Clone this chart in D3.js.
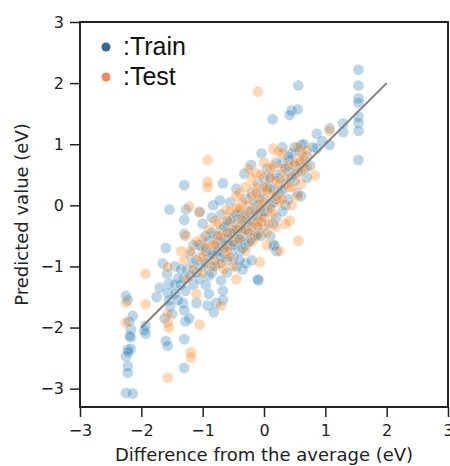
<!DOCTYPE html>
<html>
<head>
<meta charset="utf-8">
<script src="https://cdn.jsdelivr.net/npm/d3@7"></script>
<style>
  body { margin: 0; background: #fff; }
  svg { display: block; }
  .tick text { font-family: "DejaVu Sans", sans-serif; font-size: 16px; fill: #222; }
  .tick line { stroke: #222; stroke-width: 1.5; }
</style>
</head>
<body>
<svg width="450" height="466"></svg>
<script>
// train points [difference, predicted]
var trainPoints = [
  [-2.25,-1.48],[-2.22,-1.55],[-2.14,-1.81],[-2.17,-2.03],[-2.17,-2.16],[-2.19,-2.14],[-2.22,-2.36],[-2.17,-2.35],
  [-2.25,-2.47],[-2.22,-2.63],[-2.22,-2.74],[-2.25,-3.07],[-2.14,-3.08],[-2.2,-1.9],[-2.21,-2.4],
  [-1.93,-1.97],[-1.93,-2.10],[-1.95,-2.05],
  [-1.58,-1.12],[-1.55,-1.28],[-1.57,-1.43],[-1.55,-1.55],[-1.53,-1.65],[-1.6,-2.22],[-1.57,-2.30],[-1.62,-1.85],[-1.5,-1.78],
  [-1.30,-1.2],[-1.28,-1.4],[-1.32,-1.6],[-1.30,-1.72],[-1.28,-1.9],[-1.30,-2.19],[-1.30,-2.66],[-1.25,-1.05],[-1.35,-1.3],[-1.22,-1.85],
  [-0.92,-1.64],[-0.78,-1.6],[-0.70,-1.23],[-0.67,-1.4],[-0.67,-1.55],[-0.82,-1.75],[-0.6,-1.1],[-0.45,-1.0],[-0.35,-1.05],
  [-0.30,-0.95],[-0.09,-1.23],[0.15,-0.66],[0.2,-0.75],[-0.2,-0.9],[-0.1,-1.21],[0.17,-0.65],
  [-1.30,0.33],[-1.54,-0.07],[-1.27,-0.07],[-1.30,-0.24],[-1.30,-0.47],[-0.83,0.0],[-0.72,0.08],[-0.67,0.36],
  [-0.45,0.27],[-0.32,0.52],[-0.21,0.66],[-0.04,0.85],[-1.05,-0.11],
  [-1.2,-0.8],[-1.1,-0.9],[-1.0,-0.7],[-1.0,-1.0],[-0.9,-0.6],[-0.9,-0.85],[-0.85,-1.1],[-0.8,-0.5],[-0.8,-0.75],
  [-0.75,-0.95],[-0.7,-0.4],[-0.7,-0.65],[-0.65,-0.8],[-0.6,-0.3],[-0.6,-0.55],[-0.55,-0.7],[-0.5,-0.2],[-0.5,-0.45],
  [-0.5,-0.85],[-0.45,-0.6],[-0.4,-0.1],[-0.4,-0.35],[-0.4,-0.75],[-0.35,-0.5],[-0.3,0.1],[-0.3,-0.25],[-0.3,-0.65],
  [-0.25,-0.4],[-0.2,0.2],[-0.2,-0.1],[-0.2,-0.55],[-0.15,-0.3],[-0.1,0.35],[-0.1,0.0],[-0.1,-0.45],[-0.05,-0.2],
  [0.0,0.45],[0.0,0.1],[0.0,-0.35],[0.05,-0.1],[0.1,0.3],[0.1,-0.5],[0.15,0.05],[0.2,0.5],[0.2,-0.2],[0.25,0.2],
  [0.3,0.7],[0.3,-0.1],[0.35,0.35],[0.4,0.55],[0.4,0.1],[0.45,0.85],[0.5,0.4],[0.5,0.65],[0.55,0.2],[0.58,0.88],
  [0.61,0.99],[0.42,0.74],[0.65,0.6],[0.7,0.45],[0.86,0.93],[1.07,0.99],[1.07,1.26],[1.29,1.34],[1.29,1.2],[0.86,1.17],
  [0.56,1.96],[0.45,1.55],[0.55,1.57],[0.42,1.48],[0.14,1.41],
  [1.54,2.22],[1.54,1.96],[1.54,1.75],[1.54,1.68],[1.54,1.45],[1.54,1.35],[1.54,1.22],[1.54,0.74],
  [-1.75,-1.5],[-1.7,-1.35],[-1.45,-1.0],[-1.45,-1.3],[-1.4,-1.55],[-1.15,-1.3],[-1.1,-1.6],[-1.05,-1.2],
  [-0.95,-1.3],[-0.9,-1.45],[-1.6,-0.7],[-1.65,-0.95],
  [-1.45,-1.45],[-1.4,-1.2],[-1.35,-1.05],[-1.2,-1.15],[-1.15,-0.95],[-1.1,-1.1],[-1.05,-0.65],[-0.95,-0.95],
  [-0.95,-0.75],[-0.9,-1.15],[-0.85,-0.8],[-0.85,-0.45],[-0.8,-1.0],[-0.75,-0.6],[-0.75,-0.75],[-0.7,-0.85],
  [-0.65,-0.55],[-0.65,-0.35],[-0.6,-0.65],[-0.6,-0.9],[-0.55,-0.45],[-0.55,-0.25],[-0.5,-0.65],[-0.45,-0.4],
  [-0.45,-0.15],[-0.4,-0.55],[-0.4,-0.9],[-0.35,-0.2],[-0.35,-0.7],[-0.3,-0.4],[-0.25,-0.1],[-0.25,-0.6],
  [-0.2,-0.25],[-0.15,-0.5],[-0.15,0.05],[-0.1,-0.15],[-0.05,0.2],[-0.05,-0.5],[0.0,-0.1],[0.05,0.3],[0.05,0.6],
  [0.1,0.0],[0.1,0.45],[0.15,-0.3],[0.15,0.25],[0.2,0.1],[0.2,0.7],[0.25,0.45],[0.3,0.25],[0.35,0.6],[0.35,0.0],
  [0.4,0.8],[0.45,0.45],[0.5,0.95],[0.55,0.55],[0.6,0.15],[0.6,0.7],[0.65,1.0],[0.7,0.8],[0.75,0.65],[0.8,0.95],
  [0.95,1.05],[0.3,0.95],[-1.0,-0.3],[-0.95,-0.5],[-1.15,-0.65],[-0.7,-0.15],[-0.55,0.05],[-0.85,-0.2]
];

// test points [difference, predicted]
var testPoints = [
  [-2.25,-1.59],[-2.25,-1.92],[-1.93,-1.12],[-1.93,-1.62],[-1.57,-1.01],[-1.57,-1.78],[-1.57,-1.92],[-1.55,-2.0],
  [-1.57,-2.82],[-1.19,-2.41],[-1.19,-2.49],[-1.05,-1.95],[-1.1,-1.45],[-0.70,-1.64],[-0.45,-1.21],[-0.07,-0.93],
  [0.25,-0.75],[0.56,-0.58],[0.42,-0.25],
  [-0.10,1.86],[0.15,0.93],[0.23,0.88],[-0.92,0.74],[-0.92,0.38],[-0.92,0.30],[-0.13,0.52],[0.58,0.71],[0.70,0.62],
  [0.83,0.49],[1.07,1.22],[-1.22,-0.02],[-1.05,-0.11],[-1.28,-0.5],[-0.62,-0.08],[-0.80,-0.25],[-0.45,0.15],
  [-0.1,-0.25],[-0.05,-0.28],[-0.08,0.1],[0.0,0.05],[-0.15,0.3],[-0.2,0.45],[-0.25,0.0],[-0.3,-0.15],[-0.35,-0.4],
  [-0.4,0.2],[-0.45,-0.3],[-0.5,-0.6],[-0.55,-0.1],[-0.6,-0.75],[-0.7,-0.5],[-0.75,-0.3],[-0.8,-0.9],[-0.85,-0.65],
  [-0.9,-0.4],[-1.0,-0.55],[-1.05,-0.85],[-1.1,-0.6],[-1.15,-1.05],[-1.2,-0.75],[-1.3,-0.9],[-1.0,-1.1],[-0.65,-1.05],
  [-0.3,-0.75],[-0.2,-0.6],[-0.1,-0.5],[0.05,-0.45],[0.1,0.2],[0.15,-0.15],[0.2,0.4],[0.25,0.05],[0.3,0.6],
  [0.35,-0.3],[0.4,0.3],[0.45,0.0],[0.5,0.5],[0.55,0.15],[0.6,0.35],[0.62,0.85],[0.1,0.6],[0.0,0.7],[-0.2,0.15],
  [0.05,-0.65],[-0.6,-0.25],[-0.35,0.05],[0.2,-0.35],
  [-0.3,0.3],[-0.25,0.6],[-0.2,-0.35],[-0.15,-0.1],[-0.12,0.2],[-0.05,-0.05],[-0.05,0.5],[0.0,-0.2],[0.05,0.25],
  [0.08,-0.3],[0.1,0.45],[0.12,-0.05],[0.15,0.65],[0.2,0.15],[0.25,0.35],[0.3,0.1],[0.3,0.85],[0.35,0.45],
  [0.4,0.65],[0.45,0.3],[0.5,0.7],[0.55,0.95],[0.6,0.55],[0.65,0.75],[0.7,0.9],[-0.4,-0.55],[-0.45,-0.05],
  [-0.5,-0.4],[-0.55,-0.85],[-0.6,-0.45],[-0.65,-0.7],[-0.7,-0.95],[-0.75,-0.5],[-0.8,-0.65],[-0.85,-1.0],
  [-0.95,-0.7],[-1.0,-0.85],[-0.35,-0.25],[-0.25,-0.45],[-0.1,-0.35],[0.0,0.3],[-0.4,-0.05],[-1.25,-1.2],
  [-1.35,-0.75],[-0.5,-1.0]
];

var xTicks = [-3, -2, -1, 0, 1, 2, 3];
var yTicks = [-3, -2, -1, 0, 1, 2, 3];
var refLine = [-2, 2];
var seriesNames = [':Train', ':Test'];

var svg = d3.select('svg');

const plotLeft = 80, plotRight = 448, plotTop = 22, plotBottom = 407;

const xScale = d3.scaleLinear().domain([-3, 3]).range([plotLeft, plotRight]);
const yScale = d3.scaleLinear().domain([-3.3, 3]).range([plotBottom, plotTop]);

const fmt = d => d < 0 ? '\u2212' + Math.abs(d) : d;

// axes
svg.append('g')
  .attr('transform', `translate(0, ${plotBottom})`)
  .call(d3.axisBottom(xScale).tickValues(xTicks).tickSize(10).tickPadding(8).tickFormat(fmt))
  .call(g => g.select('.domain').remove());

svg.append('g')
  .attr('transform', `translate(${plotLeft}, 0)`)
  .call(d3.axisLeft(yScale).tickValues(yTicks).tickSize(10).tickPadding(6).tickFormat(fmt))
  .call(g => g.select('.domain').remove());

// points
var pts = svg.append('g');
pts.selectAll('.train')
  .data(trainPoints)
  .enter()
  .append('circle')
  .attr('class', 'train')
  .attr('cx', d => xScale(d[0]))
  .attr('cy', d => yScale(d[1]))
  .attr('r', 5.5)
  .attr('fill', '#1f77b4')
  .attr('fill-opacity', 0.3)
  .attr('stroke', '#fff')
  .attr('stroke-opacity', 0.3);

pts.selectAll('.test')
  .data(testPoints)
  .enter()
  .append('circle')
  .attr('class', 'test')
  .attr('cx', d => xScale(d[0]))
  .attr('cy', d => yScale(d[1]))
  .attr('r', 5.5)
  .attr('fill', '#ff7f0e')
  .attr('fill-opacity', 0.3)
  .attr('stroke', '#fff')
  .attr('stroke-opacity', 0.3);

// diagonal
svg.append('line')
  .attr('x1', xScale(refLine[0])).attr('y1', yScale(refLine[0]))
  .attr('x2', xScale(refLine[1])).attr('y2', yScale(refLine[1]))
  .attr('stroke', '#808080')
  .attr('stroke-width', 2);

// frame
svg.append('rect')
  .attr('x', plotLeft).attr('y', plotTop)
  .attr('width', plotRight - plotLeft).attr('height', plotBottom - plotTop)
  .attr('fill', 'none')
  .attr('stroke', '#222')
  .attr('stroke-width', 2);

// legend
var legendColors = ['#35688f', '#ec8a5c'];
seriesNames.forEach((name, i) => {
  svg.append('circle')
    .attr('cx', 106).attr('cy', 47 + i * 30)
    .attr('r', 4.5)
    .attr('fill', legendColors[i]);
  svg.append('text')
    .attr('x', 123).attr('y', 55 + i * 30)
    .attr('font-family', '"Liberation Sans", Arial, sans-serif')
    .attr('font-size', 25)
    .attr('fill', '#111')
    .text(name);
});

// axis labels
svg.append('text')
  .attr('x', (plotLeft + plotRight) / 2).attr('y', 461)
  .attr('text-anchor', 'middle')
  .attr('font-family', '"DejaVu Sans", sans-serif')
  .attr('font-size', 18)
  .attr('fill', '#222')
  .text('Difference from the average (eV)');

svg.append('text')
  .attr('transform', `translate(28, ${(plotTop + plotBottom) / 2}) rotate(-90)`)
  .attr('text-anchor', 'middle')
  .attr('font-family', '"DejaVu Sans", sans-serif')
  .attr('font-size', 18)
  .attr('fill', '#222')
  .text('Predicted value (eV)');
</script>
</body>
</html>
